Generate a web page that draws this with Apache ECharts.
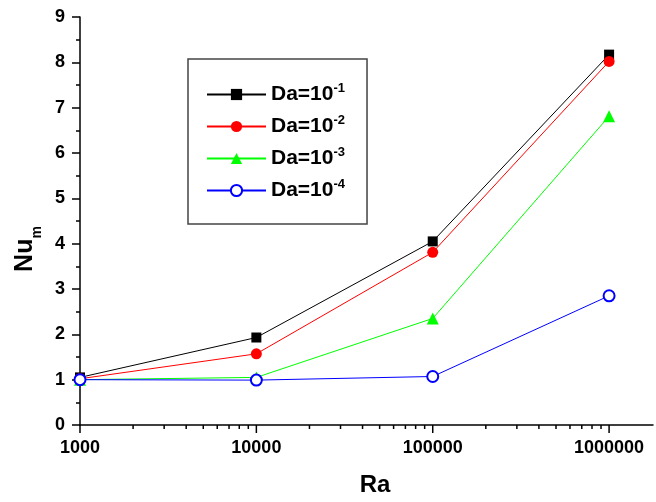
<!DOCTYPE html>
<html>
<head>
<meta charset="utf-8">
<script src="https://cdn.jsdelivr.net/npm/echarts@6/dist/echarts.min.js"></script>
<style>
html,body{margin:0;padding:0;background:#fff;}
#chart{width:656px;height:502px;}
</style>
</head>
<body>
<div id="chart"></div>
<script>
const raValues = [1000, 10000, 100000, 1000000];
const seriesNames = ['Da=10-1', 'Da=10-2', 'Da=10-3', 'Da=10-4'];
const nuDa1 = [1.05, 1.93, 4.05, 8.17];
const nuDa2 = [1.02, 1.57, 3.81, 8.02];
const nuDa3 = [1.00, 1.05, 2.35, 6.81];
const nuDa4 = [1.00, 0.99, 1.07, 2.85];
const majorTicksX = [1000, 10000, 100000, 1000000];
const minorTicksX = [2000,3000,4000,5000,6000,7000,8000,9000,
  20000,30000,40000,50000,60000,70000,80000,90000,
  200000,300000,400000,500000,600000,700000,800000,900000];

const FONT = 'Liberation Sans, Arial, sans-serif';
const chart = echarts.init(document.getElementById('chart'));

function pairs(vals){ return raValues.map((r,i)=>[r, vals[i]]); }
function isPow10(v){ const l = Math.log10(v); return Math.abs(l - Math.round(l)) < 1e-6; }

function tickSeries(values, len){
  return {
    type: 'custom', silent: true, z: 10, clip: false,
    data: values.map(v => [v, 0]),
    encode: {x: 0, y: 1},
    renderItem: function(params, api){
      const p = api.coord([api.value(0), 0]);
      return {type: 'line', shape: {x1: p[0], y1: p[1], x2: p[0], y2: p[1] + len},
        style: {stroke: '#000', lineWidth: 1.5}};
    }
  };
}

const lineBase = {type: 'line', showSymbol: true, lineStyle: {width: 1}, emphasis: {disabled: true}};

chart.setOption({
  animation: false,
  backgroundColor: '#fff',
  grid: {left: 80, right: 1, top: 17, bottom: 74, containLabel: false},
  legend: {
    data: seriesNames,
    orient: 'vertical',
    left: 188, top: 59,
    padding: [23, 22, 23, 18],
    borderColor: '#444', borderWidth: 1.5,
    itemWidth: 59, itemHeight: 14, itemGap: 9,
    selectedMode: false,
    formatter: function(name){
      const sup = name.slice(5);
      return '{b|Da=10}{p|' + sup + '}';
    },
    textStyle: {
      rich: {
        b: {fontFamily: FONT, fontWeight: 'bold', fontSize: 21, color: '#000', lineHeight: 24},
        p: {fontFamily: FONT, fontWeight: 'bold', fontSize: 13, color: '#000', padding: [0,0,12,0]}
      }
    }
  },
  xAxis: {
    type: 'log', logBase: 10, min: 1000, max: 1774000,
    name: 'Ra', nameLocation: 'middle', nameGap: 48,
    nameTextStyle: {fontFamily: FONT, fontWeight: 'bold', fontSize: 24, color: '#000', padding: [0,0,0,17]},
    axisLine: {show: true, lineStyle: {color: '#000', width: 1.5}},
    axisTick: {show: false},
    minorTick: {show: false},
    splitLine: {show: false},
    axisLabel: {
      margin: 14, fontFamily: FONT, fontWeight: 'bold', fontSize: 18, color: '#000',
      formatter: function(v){ return isPow10(v) ? String(Math.round(v)) : ''; }
    }
  },
  yAxis: {
    type: 'value', min: 0, max: 9, interval: 1,
    name: '{n|Nu}{s|m}', nameLocation: 'middle', nameRotate: 90, nameGap: 35,
    nameTextStyle: {
      padding: [0, 56, 0, 0],
      rich: {
        n: {fontFamily: FONT, fontWeight: 'bold', fontSize: 25, color: '#000'},
        s: {fontFamily: FONT, fontWeight: 'bold', fontSize: 14, color: '#000', padding: [24,0,0,0]}
      }
    },
    axisLine: {show: true, lineStyle: {color: '#000', width: 1.5}},
    axisTick: {show: true, length: 8, lineStyle: {color: '#000', width: 1.5}},
    minorTick: {show: true, splitNumber: 2, length: 4, lineStyle: {color: '#000', width: 1.5}},
    splitLine: {show: false},
    axisLabel: {margin: 15, fontFamily: FONT, fontWeight: 'bold', fontSize: 18, color: '#000'}
  },
  series: [
    Object.assign({}, lineBase, {name: seriesNames[0], data: pairs(nuDa1), symbol: 'rect', symbolSize: 10,
      itemStyle: {color: '#000'}, lineStyle: {color: '#000', width: 1}}),
    Object.assign({}, lineBase, {name: seriesNames[1], data: pairs(nuDa2), symbol: 'circle', symbolSize: 11,
      itemStyle: {color: '#ff0000'}, lineStyle: {color: '#ff0000', width: 1}}),
    Object.assign({}, lineBase, {name: seriesNames[2], data: pairs(nuDa3), symbol: 'triangle', symbolSize: 12,
      itemStyle: {color: '#00ff00'}, lineStyle: {color: '#00ff00', width: 1}}),
    Object.assign({}, lineBase, {name: seriesNames[3], data: pairs(nuDa4), symbol: 'emptyCircle', symbolSize: 11,
      itemStyle: {color: '#0000ff', borderWidth: 1.2}, lineStyle: {color: '#0000ff', width: 1}}),
    tickSeries(majorTicksX, 8),
    tickSeries(minorTicksX, 4)
  ]
});
</script>
</body>
</html>
